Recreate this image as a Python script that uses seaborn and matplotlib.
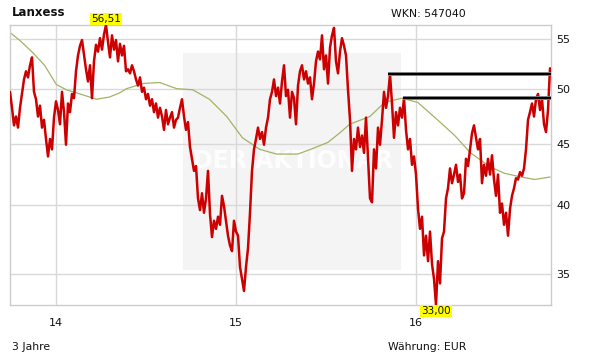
import matplotlib
matplotlib.use("Agg")
import matplotlib.pyplot as plt
import seaborn as sns
import pandas as pd
import numpy as np
from matplotlib.patches import Rectangle

# ---------------- data ----------------
title = "Lanxess"
wkn_text = "WKN: 547040"
period_text = "3 Jahre"
currency_text = "Währung: EUR"
watermark_text = "DER AKTIONÄR"

start_date = "2013-09-30"
end_date = "2016-09-28"
axis_end = "2016-09-30"

prices = [
    49.7, 48.2, 46.6, 47.4, 46.4, 48.2, 49.5, 50.9, 51.7, 51.1,
    52.3, 53.1, 49.7, 49.0, 47.4, 48.4, 46.4, 47.1, 45.4, 43.9,
    45.4, 44.5, 47.3, 48.8, 48.0, 46.7, 49.7, 47.8, 44.9, 48.6,
    47.8, 49.5, 49.1, 51.7, 53.3, 54.3, 54.9, 53.4, 51.9, 50.7,
    52.3, 49.1, 52.7, 54.4, 53.7, 55.1, 53.9, 55.5, 56.51, 54.7,
    53.1, 55.4, 53.9, 54.9, 52.7, 54.5, 53.3, 54.3, 51.7, 51.9,
    51.5, 52.3, 51.7, 50.9, 50.3, 51.1, 49.7, 50.1, 49.0, 49.5,
    48.4, 49.0, 47.8, 48.6, 47.3, 48.2, 47.4, 46.2, 48.0, 46.7,
    47.3, 47.8, 46.4, 47.1, 47.3, 48.2, 49.0, 47.4, 46.2, 46.9,
    44.7, 43.7, 42.7, 43.1, 40.5, 39.6, 40.9, 39.4, 40.5, 42.7,
    39.3, 37.6, 38.8, 38.2, 39.1, 38.5, 40.7, 39.9, 38.8, 37.7,
    37.0, 36.6, 38.8, 38.0, 37.7, 35.5, 34.7, 33.9, 35.5, 36.8,
    39.4, 42.7, 44.5, 45.4, 46.4, 45.4, 46.0, 44.9, 46.4, 47.3,
    49.0, 49.7, 50.9, 49.3, 50.1, 48.6, 50.7, 52.3, 49.3, 49.9,
    47.3, 49.7, 49.1, 46.7, 50.3, 51.7, 52.3, 50.9, 51.7, 50.5,
    51.1, 49.0, 50.5, 52.7, 53.7, 52.9, 55.4, 51.9, 53.3, 50.5,
    54.1, 55.4, 56.2, 52.7, 51.5, 53.7, 55.1, 54.3, 53.3, 49.9,
    47.1, 42.7, 45.4, 44.5, 46.4, 44.7, 45.7, 44.2, 47.3, 43.7,
    40.5, 40.2, 44.5, 42.9, 46.4, 44.9, 47.1, 49.7, 48.2, 49.3,
    51.4, 48.6, 45.5, 47.8, 46.6, 48.2, 47.3, 49.1, 46.2, 44.5,
    45.4, 43.2, 43.9, 42.4, 39.7, 38.2, 39.1, 36.3, 37.7, 35.9,
    38.0, 35.7, 34.7, 33.00, 35.9, 34.4, 37.5, 38.0, 40.5, 41.3,
    42.9, 41.7, 42.4, 43.2, 41.8, 42.4, 40.5, 40.9, 43.7, 43.1,
    44.5, 45.9, 46.6, 45.5, 44.5, 45.4, 41.7, 43.2, 42.3, 43.7,
    42.4, 44.0, 42.0, 40.7, 42.4, 39.4, 40.1, 38.5, 39.4, 37.7,
    39.7, 40.7, 41.3, 42.1, 42.0, 42.6, 42.3, 42.9, 44.5, 47.1,
    47.8, 48.6, 47.4, 49.0, 49.5, 48.0, 49.0, 46.7, 46.0, 48.0,
    52.0,
]

ma_dates = [
    "2013-09-30", "2013-10-19", "2013-11-15", "2013-12-09", "2014-01-02",
    "2014-01-22", "2014-02-12", "2014-03-04", "2014-03-24", "2014-04-19",
    "2014-05-10", "2014-05-24", "2014-06-26", "2014-07-30", "2014-09-03",
    "2014-10-05", "2014-11-08", "2014-12-13", "2015-01-14", "2015-02-18",
    "2015-03-24", "2015-05-06", "2015-06-01", "2015-07-06", "2015-08-01",
    "2015-08-19", "2015-09-29", "2015-10-29", "2015-12-03", "2016-01-04",
    "2016-02-13", "2016-03-19", "2016-04-20", "2016-05-31", "2016-06-28",
    "2016-07-31", "2016-08-28", "2016-09-28",
]
ma_values = [
    55.7, 54.9, 53.6, 52.3, 50.4,
    49.9, 49.6, 49.3, 49.0, 49.2,
    49.6, 50.0, 50.5, 50.6, 50.0,
    49.9, 49.0, 47.4, 45.5, 44.5,
    44.1, 44.1, 44.5, 45.1, 46.0,
    46.7, 47.4, 48.7, 49.1, 48.7,
    47.1, 45.7, 44.2, 43.0, 42.5,
    42.2, 42.0, 42.2,
]

resistance_start = ["2015-11-05", "2015-12-05"]
resistance_level = [51.4, 49.1]

y_ticks = [35, 40, 45, 50, 55]
y_min, y_max = 33.00, 56.51
x_tick_dates = ["2014-01-01", "2015-01-01", "2016-01-01"]
x_tick_labels = ["14", "15", "16"]
high_label = "56,51"
low_label = "33,00"

# ---------------- plot ----------------
sns.set_theme(style="white")
plt.rcParams["font.family"] = ["DejaVu Sans"]

W, H = 611, 364
fig = plt.figure(figsize=(W / 100, H / 100), dpi=100)
ax = fig.add_axes([10 / W, 1 - 305 / H, 541 / W, 280 / H])

dates = pd.date_range(start_date, end_date, periods=len(prices))
df = pd.DataFrame({"date": dates, "price": prices})
ma_df = pd.DataFrame({"date": pd.to_datetime(ma_dates), "ma": ma_values})

ax.set_yscale("log")

# watermark box
ax.add_patch(Rectangle((0.320, 0.125), 0.403, 0.775, transform=ax.transAxes,
                       facecolor="#f4f4f4", edgecolor="none", zorder=0.1))
ax.text(0.523, 0.515, watermark_text, transform=ax.transAxes, ha="center",
        va="center", fontsize=17, fontweight="bold", color="#fdfdfd", zorder=0.2)

sns.lineplot(data=ma_df, x="date", y="ma", ax=ax, color="#a3b364",
             linewidth=0.9, zorder=2)
sns.lineplot(data=df, x="date", y="price", ax=ax, color="#cc0000",
             linewidth=1.8, zorder=3)

x_end = pd.Timestamp(axis_end)
for s, lvl in zip(resistance_start, resistance_level):
    ax.plot([pd.Timestamp(s), x_end], [lvl, lvl], color="#999999",
            linewidth=2.8, solid_capstyle="butt", zorder=4)
    ax.plot([pd.Timestamp(s), x_end], [lvl, lvl], color="#000000",
            linewidth=1.7, solid_capstyle="butt", zorder=4)

ax.set_xlim(pd.Timestamp(start_date), x_end)
ax.set_ylim(y_min, y_max)

ax.set_yticks(y_ticks)
ax.set_yticklabels([str(t) for t in y_ticks])
ax.yaxis.set_minor_locator(matplotlib.ticker.NullLocator())
ax.set_xticks(pd.to_datetime(x_tick_dates))
ax.set_xticklabels(x_tick_labels)
ax.yaxis.tick_right()
ax.tick_params(axis="both", length=0, labelsize=8, colors="#111111")
ax.tick_params(axis="y", pad=4)
ax.tick_params(axis="x", pad=9)
ax.set_xlabel("")
ax.set_ylabel("")

ax.set_axisbelow(True)
ax.grid(True, color="#d9d9d9", linewidth=1.0)
for sp in ax.spines.values():
    sp.set_color("#cccccc")
    sp.set_linewidth(1.0)

# high / low labels
imax = int(np.argmax(prices))
imin = int(np.argmin(prices))
tr = ax.get_xaxis_transform()
ax.text(dates[imax], 1.021, high_label, transform=tr, ha="center", va="center",
        fontsize=7.5, color="#111111", clip_on=False, zorder=6,
        bbox=dict(boxstyle="square,pad=0.12", facecolor="#ffff00", edgecolor="none"))
ax.text(dates[imin], -0.021, low_label, transform=tr, ha="center", va="center",
        fontsize=7.5, color="#111111", clip_on=False, zorder=6,
        bbox=dict(boxstyle="square,pad=0.12", facecolor="#ffff00", edgecolor="none"))

fig.text(12 / W, 1 - 13 / H, title, ha="left", va="center", fontsize=8.5,
         fontweight="bold", color="#111111")
fig.text(391 / W, 1 - 14 / H, wkn_text, ha="left", va="center", fontsize=7.8,
         color="#111111")
fig.text(12 / W, 1 - 347 / H, period_text, ha="left", va="center", fontsize=7.8,
         color="#111111")
fig.text(388 / W, 1 - 347 / H, currency_text, ha="left", va="center", fontsize=7.8,
         color="#111111")

fig.savefig("out.png", dpi=100)
